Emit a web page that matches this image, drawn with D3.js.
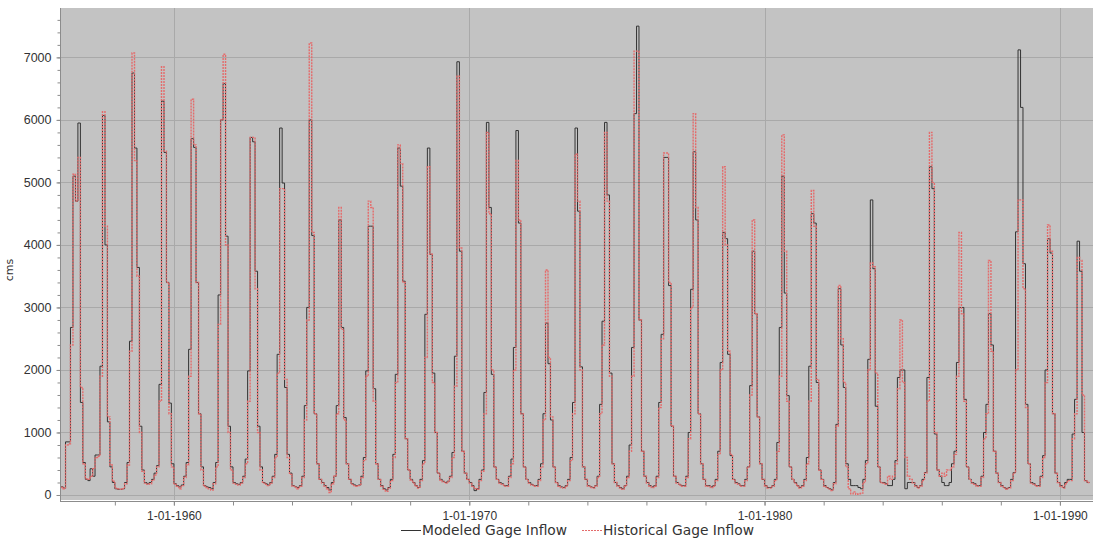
<!DOCTYPE html>
<html>
<head>
<meta charset="utf-8">
<script src="https://cdn.jsdelivr.net/npm/d3@7"></script>
<style>
    body { margin: 0; background: #ffffff; }
    svg { display: block; font-family: "DejaVu Sans", sans-serif; }
    .axis path, .axis line { stroke: #8c8c8c; }
    .axis text { fill: #333333; }
</style>
</head>
<body>
<div id="chart"></div>
<script>
// one row per year, Jan..Dec (cms)
const years = [1956, 1957, 1958, 1959, 1960, 1961, 1962, 1963, 1964, 1965, 1966, 1967,
    1968, 1969, 1970, 1971, 1972, 1973, 1974, 1975, 1976, 1977, 1978, 1979,
    1980, 1981, 1982, 1983, 1984, 1985, 1986, 1987, 1988, 1989, 1990];

const modeled = [
    140,140,130,110,850,850,2680,5100,4700,5950,1480,520,
    250,230,420,300,640,640,2060,6070,4000,1170,450,200,
    100,90,90,100,200,520,2460,6750,5550,3640,1100,400,
    200,180,200,250,350,470,1770,6300,5480,3400,1470,500,
    180,150,130,160,300,520,2330,5700,5560,3400,1300,450,
    150,130,120,100,200,520,3200,6000,6580,4140,1100,450,
    200,180,170,200,300,575,1985,5720,5650,3580,1100,450,
    200,180,160,200,300,650,2250,5870,4990,1720,650,350,
    150,130,120,150,300,1430,3000,6000,4150,1300,500,250,
    200,150,120,80,200,300,1430,4400,2680,1240,500,250,
    180,160,150,160,300,600,1985,4300,4300,1700,500,250,
    150,100,80,120,250,650,1930,5550,4940,3420,900,400,
    250,200,150,120,250,550,2890,5550,3850,1950,1000,350,
    250,220,200,220,300,680,2220,6930,3900,700,350,250,
    200,150,70,100,250,400,1640,5960,4600,1930,450,250,
    200,180,150,150,300,575,2360,5830,4350,1300,450,250,
    200,170,150,150,250,500,1300,2750,2100,1200,450,200,
    150,130,120,150,250,600,1480,5870,4540,2050,450,250,
    150,130,120,150,300,1450,2780,5960,4800,1950,500,200,
    150,120,100,150,300,800,2360,6100,7500,2800,700,300,
    200,150,130,150,300,1480,2570,5400,5400,3350,1100,300,
    200,170,150,150,300,1000,3290,5490,4400,1300,500,250,
    150,150,130,150,250,700,2120,4200,4100,2250,630,250,
    200,180,150,150,250,450,1750,3900,2900,1250,500,250,
    150,120,120,150,250,840,2680,5100,3230,1590,450,250,
    200,150,120,150,250,600,2060,4500,4350,1800,400,250,
    150,120,100,80,200,1130,3300,2400,1720,500,250,150,
    150,150,120,100,250,550,2170,4720,3620,1420,450,200,
    200,180,150,150,250,550,1880,2000,2000,100,200,200,
    200,150,120,150,250,360,1880,5250,4900,975,400,300,
    200,150,150,200,500,700,2120,3000,3000,1530,450,250,
    200,180,150,150,300,1000,1450,2900,2400,700,350,200,
    150,120,100,120,250,360,4210,7120,6200,3700,1450,500,
    200,180,150,150,300,630,2000,4100,3870,1300,350,200,
    150,120,200,250,250,975,1530,4060,3580,1000,230,200
];

const historical = [
    130,130,120,100,800,820,2400,5130,4700,5400,1720,500,
    260,250,300,420,600,620,1900,6130,4300,1250,480,220,
    110,100,90,100,180,480,2300,7070,5350,3500,1000,380,
    190,170,180,230,320,450,1500,6850,5500,3400,1300,450,
    170,140,100,150,280,480,1900,6330,5600,3400,1300,400,
    140,120,100,80,180,450,2730,6000,7050,4000,1000,400,
    190,170,160,190,280,500,1500,5720,5720,3300,1000,400,
    190,170,150,190,280,600,1950,4900,4900,1850,600,330,
    140,120,100,140,280,1200,2800,7230,4200,1300,500,250,
    190,140,100,40,180,300,1300,4600,2650,1200,500,250,
    170,150,140,150,280,550,1900,4700,4600,1500,500,250,
    140,90,60,110,230,600,1800,5600,5300,3400,900,400,
    240,190,140,110,230,500,2200,5250,3850,1800,1000,350,
    240,210,190,210,280,600,1740,6700,3950,700,350,250,
    190,140,100,90,230,380,1300,5800,4500,2000,450,250,
    190,170,140,140,280,500,2000,5350,4400,1300,450,250,
    190,160,140,140,230,450,1200,3600,2200,1250,450,200,
    140,120,110,140,230,550,1300,5450,4700,2000,450,250,
    140,120,110,140,280,1300,2400,5800,4700,1900,500,200,
    140,110,90,140,280,700,1900,7100,7100,2800,700,300,
    190,140,120,140,280,1400,2500,5470,5470,3400,1100,300,
    190,160,140,140,280,900,3000,6100,4600,1300,500,250,
    140,140,120,140,230,650,2000,5250,4000,2300,650,250,
    190,170,140,140,230,450,1600,4400,2900,1250,500,250,
    140,110,110,140,230,700,1900,5760,3900,1500,450,250,
    190,140,110,140,230,500,1500,4870,4300,1850,400,250,
    140,110,90,70,180,1100,3350,2500,1800,450,100,20,
    50,10,20,30,200,500,2000,3710,3650,1950,450,200,
    190,170,300,250,300,500,1700,2800,1800,600,300,250,
    190,140,110,140,230,350,1500,5800,5000,1000,400,300,
    350,300,400,400,450,650,1900,4200,2900,1500,450,250,
    190,170,140,140,280,900,1300,3750,2300,700,350,200,
    140,110,90,110,230,350,2000,4720,4720,3300,1400,500,
    190,170,140,140,280,600,1800,4320,3900,1300,350,200,
    140,110,180,230,230,900,1300,3800,3750,1600,230,200
];

const seriesNames = ["Modeled Gage Inflow", "Historical Gage Inflow"];
const yTicks = [0, 1000, 2000, 3000, 4000, 5000, 6000, 7000];
const labelYears = [1960, 1970, 1980, 1990];
const minorYears = [1958, 1960, 1962, 1964, 1966, 1968, 1970, 1972, 1974, 1976, 1978,
    1980, 1982, 1984, 1986, 1988, 1990];

class InflowChart {
    constructor(modeledData, historicalData) {
        this.svgWidth = 1097;
        this.svgHeight = 539;
        this.plot = {left: 61, top: 8, right: 1093, bottom: 500};

        this.svg = d3.select("#chart").append("svg")
            .attr("width", this.svgWidth)
            .attr("height", this.svgHeight);

        // monthly points, plus one closing point so the last step has width
        let toPoints = arr => {
            let pts = arr.map((v, i) => ({date: new Date(years[Math.floor(i / 12)], i % 12, 1), value: v}));
            pts.push({date: new Date(years[years.length - 1] + 1, 0, 1), value: arr[arr.length - 1]});
            return pts;
        };
        this.modeled = toPoints(modeledData);
        this.historical = toPoints(historicalData);

        this.x = d3.scaleTime()
            .domain([new Date(1956, 2, 6), new Date(1991, 1, 14)])
            .range([this.plot.left, this.plot.right]);
        this.y = d3.scaleLinear()
            .domain([-80, 7790])
            .range([this.plot.bottom, this.plot.top]);
    };

    update() {
        let p = this.plot;
        let x = this.x, y = this.y;

        this.svg.append("rect")
            .attr("x", p.left)
            .attr("y", p.top)
            .attr("width", p.right - p.left)
            .attr("height", p.bottom - p.top)
            .attr("fill", "#c3c3c3");

        this.svg.append("defs").append("clipPath")
            .attr("id", "plotClip")
            .append("rect")
            .attr("x", p.left)
            .attr("y", p.top)
            .attr("width", p.right - p.left)
            .attr("height", p.bottom - p.top);

        // grid
        this.svg.append("g").selectAll("line")
            .data(yTicks)
            .enter().append("line")
            .attr("x1", p.left).attr("x2", p.right)
            .attr("y1", d => Math.round(y(d)) + 0.5)
            .attr("y2", d => Math.round(y(d)) + 0.5)
            .attr("stroke", "#a9a9a9");
        this.svg.append("g").selectAll("line")
            .data(labelYears)
            .enter().append("line")
            .attr("y1", p.top).attr("y2", p.bottom)
            .attr("x1", d => Math.round(x(new Date(d, 0, 1))) + 0.5)
            .attr("x2", d => Math.round(x(new Date(d, 0, 1))) + 0.5)
            .attr("stroke", "#a9a9a9");

        let line = d3.line()
            .x(d => x(d.date))
            .y(d => y(d.value))
            .curve(d3.curveStepAfter);

        let lines = this.svg.append("g").attr("clip-path", "url(#plotClip)");
        lines.append("path")
            .datum(this.modeled)
            .attr("d", line)
            .attr("fill", "none")
            .attr("stroke", "#333333")
            .attr("stroke-width", 1);
        lines.append("path")
            .datum(this.historical)
            .attr("d", line)
            .attr("fill", "none")
            .attr("stroke", "#e46b6b")
            .attr("stroke-width", 1.4)
            .attr("stroke-dasharray", "2,1");

        // axes
        let yMinor = d3.range(0, 7800, 200);
        this.svg.append("g")
            .attr("class", "axis")
            .attr("transform", `translate(${p.left - 0.5},0)`)
            .call(d3.axisLeft(y).tickValues(yMinor).tickSize(3).tickSizeOuter(0).tickFormat(""))
            .call(g => g.select(".domain").attr("d", `M0,${p.top}V${p.bottom + 2}`));
        this.svg.append("g")
            .attr("class", "axis")
            .attr("transform", `translate(${p.left - 0.5},0)`)
            .style("font-size", "12.5px")
            .call(d3.axisLeft(y).tickValues(yTicks).tickSize(4).tickPadding(5)
                .tickSizeOuter(0).tickFormat(d3.format("d")))
            .call(g => g.select(".domain").remove());

        let bottomY = p.bottom + 1.5;
        this.svg.append("g")
            .attr("class", "axis")
            .attr("transform", `translate(0,${bottomY})`)
            .call(d3.axisBottom(x).tickValues(minorYears.map(d => new Date(d, 0, 1)))
                .tickSize(4).tickSizeOuter(0).tickFormat(""))
            .call(g => g.select(".domain").attr("d", `M${p.left},0H${p.right}`));
        this.svg.append("g")
            .attr("class", "axis")
            .attr("transform", `translate(0,${bottomY})`)
            .style("font-size", "12px")
            .call(d3.axisBottom(x).tickValues(labelYears.map(d => new Date(d, 0, 1)))
                .tickSize(4).tickPadding(6).tickFormat(d3.timeFormat("%-m-%d-%Y")))
            .call(g => g.select(".domain").remove());

        this.svg.append("text")
            .attr("transform", "translate(13,270) rotate(-90)")
            .attr("text-anchor", "middle")
            .style("font-size", "11px")
            .attr("fill", "#333")
            .text("cms");

        // legend
        let legend = this.svg.append("g").style("font-size", "13.8px");
        legend.append("line")
            .attr("x1", 401).attr("x2", 421).attr("y1", 530.5).attr("y2", 530.5)
            .attr("stroke", "#333333");
        legend.append("text")
            .attr("x", 422).attr("y", 535)
            .attr("fill", "#333")
            .text(seriesNames[0]);
        legend.append("line")
            .attr("x1", 582).attr("x2", 602).attr("y1", 530.5).attr("y2", 530.5)
            .attr("stroke", "#e46b6b")
            .attr("stroke-dasharray", "2,1");
        legend.append("text")
            .attr("x", 603).attr("y", 535)
            .attr("fill", "#333")
            .text(seriesNames[1]);
    };
}

let chart = new InflowChart(modeled, historical);
chart.update();
</script>
</body>
</html>
